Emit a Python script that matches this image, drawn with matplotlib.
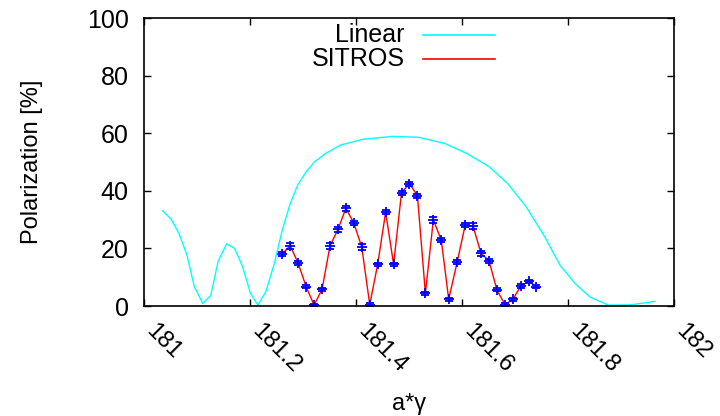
import numpy as np
import matplotlib
matplotlib.use("Agg")
import matplotlib.pyplot as plt
import matplotlib.transforms as mtransforms

plt.rcParams["font.family"] = ["Liberation Sans", "DejaVu Sans"]

# linear (smooth) polarization curve
lin_x = [181.035, 181.051, 181.066, 181.081, 181.095, 181.111, 181.126, 181.140,
         181.156, 181.171, 181.186, 181.201, 181.215, 181.230, 181.246, 181.261,
         181.276, 181.290, 181.306, 181.322, 181.343, 181.371, 181.413, 181.469,
         181.518, 181.567, 181.609, 181.651, 181.686, 181.721, 181.756, 181.785,
         181.813, 181.841, 181.876, 181.918, 181.964]
lin_y = [33.1, 30.2, 25.2, 17.7, 6.7, 0.9, 3.7, 15.6,
         21.6, 20.0, 13.7, 4.4, 0.3, 5.0, 14.8, 26.4,
         35.6, 42.0, 46.6, 50.1, 53.0, 55.9, 57.9, 58.9,
         58.6, 56.5, 53.0, 48.4, 42.6, 34.5, 24.1, 14.2,
         7.9, 3.2, 0.3, 0.4, 1.6]

# SITROS tracking points
sit_x = [181.260, 181.276, 181.291, 181.306, 181.321, 181.336, 181.351, 181.366,
         181.381, 181.396, 181.411, 181.426, 181.441, 181.456, 181.471, 181.486,
         181.501, 181.516, 181.531, 181.546, 181.561, 181.575, 181.591, 181.606,
         181.621, 181.636, 181.651, 181.666, 181.681, 181.696, 181.711, 181.726,
         181.740]
sit_y = [18.0, 20.9, 14.8, 6.7, 0.3, 5.8, 20.9, 26.6,
         33.9, 28.8, 20.4, 0.5, 14.5, 32.6, 14.5, 39.4,
         42.5, 38.3, 4.4, 29.9, 22.9, 2.3, 15.3, 28.0,
         27.7, 18.3, 15.7, 5.6, 0.5, 2.3, 6.9, 8.6,
         6.7]
sit_err = [0.7, 1.0, 0.7, 0.5, 0.5, 0.5, 1.0, 0.8,
           0.8, 0.8, 1.0, 0.5, 0.6, 0.6, 0.6, 0.7,
           0.7, 0.7, 0.5, 1.0, 0.7, 0.5, 0.6, 0.7,
           1.0, 0.8, 0.7, 0.5, 0.5, 0.5, 0.6, 0.6,
           0.6]

xticks = [181, 181.2, 181.4, 181.6, 181.8, 182]
xtick_labels = ["181", "181.2", "181.4", "181.6", "181.8", "182"]
yticks = [0, 20, 40, 60, 80, 100]

fig = plt.figure(figsize=(7.2, 4.16), dpi=100)
ax = fig.add_axes([0.2, 0.2644, 0.736, 0.6923])

ax.plot(lin_x, lin_y, color="#00ffff", lw=1.0)
ax.plot(sit_x, sit_y, color="#ff0000", lw=1.0)
ax.errorbar(sit_x, sit_y, yerr=sit_err, fmt="+", color="#0000ff", ms=7, mew=1.3,
            elinewidth=1.0, capsize=3, capthick=1.0)

ax.set_xlim(181, 182)
ax.set_ylim(0, 100)
ax.set_xticks(xticks)
ax.set_xticklabels(xtick_labels, rotation=-45, ha="left", va="top",
                   rotation_mode="anchor")
ax.set_yticks(yticks)
ax.tick_params(direction="in", top=True, right=True, length=5, width=1)
ax.tick_params(axis="y", pad=11, labelsize=18)
ax.tick_params(axis="x", pad=10, labelsize=17)
shift = mtransforms.ScaledTranslation(13 / 100, 0, fig.dpi_scale_trans)
for lab in ax.get_xticklabels():
    lab.set_transform(lab.get_transform() + shift)
for s in ax.spines.values():
    s.set_linewidth(1.2)

ax.set_ylabel("Polarization [%]", fontsize=17)
ax.yaxis.set_label_coords(-0.19, 0.5)
ax.set_xlabel("a*γ", fontsize=17)
ax.xaxis.set_label_coords(0.5, -0.302)

# key, gnuplot style: right-aligned text then line sample
for txt, col, yy in (("Linear", "#00ffff", 0.942), ("SITROS", "#ff0000", 0.859)):
    ax.text(0.4925, yy, txt, transform=ax.transAxes, ha="right", va="center",
            fontsize=18)
    ax.plot([0.526, 0.663], [yy, yy], transform=ax.transAxes, color=col, lw=1.2)

fig.savefig("out.png", dpi=100)
